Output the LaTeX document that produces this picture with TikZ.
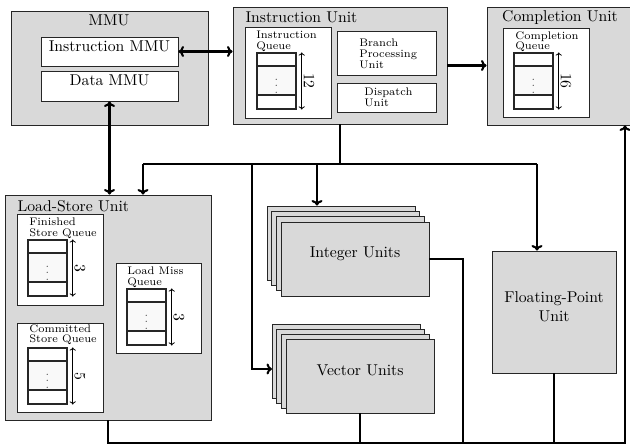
\documentclass[tikz,border=0pt]{standalone}
\usetikzlibrary{fit,arrows.meta}

\tikzset{
  unit/.style={draw=black!85, fill=gray!30, line width=0.6pt, inner sep=0pt},
  sub/.style={draw=black!85, fill=white, line width=0.6pt, inner sep=0pt},
  cell/.style={draw=black!85, fill=white, line width=0.7pt, inner sep=0pt},
  midcell/.style={cell, fill=gray!5},
  smalltext/.style={font=\fontsize{7}{6.8}\selectfont, align=left, inner sep=0pt, anchor=north west},
  wire/.style={line width=1.3pt},
  link/.style={wire, -{To[length=3.5pt,width=7pt]}},
  dlink/.style={wire, {To[length=3.5pt,width=7pt]}-{To[length=3.5pt,width=7pt]}},
  depth/.style={line width=0.5pt, {To[length=2pt,width=4pt]}-{To[length=2pt,width=4pt]}},
}

% a FIFO queue: name, left x, top y, number of entries
\newcommand\fifoq[4]{%
  \node[cell, fit={(#2,#3) (#2+39,#3+13)}] (#1t) {};
  \node[midcell, fit={(#2,#3+13) (#2+39,#3+42)}] (#1m) {};
  \node[cell, fit={(#2,#3+42) (#2+39,#3+56)}] (#1b) {};
  \node[inner sep=0pt, font=\scriptsize, text=black!70] (#1d) at (#2+19.5,#3+28.5) {$\vdots$};
  \draw[depth] ([xshift=3.3pt]#1t.north east) -- ([xshift=3.3pt]#1b.south east);
  \node[rotate=-90, inner sep=0pt] (#1n) at (#2+52,#3+28) {#4};
}

\begin{document}
\begin{tikzpicture}[x=0.637pt, y=-0.637pt]
\useasboundingbox (0,0) rectangle (630,447);

% ---- MMU ----
\node[unit, fit={(11,11) (208,125)}] (mmu) {};
\node (mmut) at (109,20) {MMU};
\node[sub, fit={(41,37) (178,66)}] (immu) {Instruction MMU};
\node[sub, fit={(41,71) (178,101)}] (dmmu) {Data MMU};

% ---- Instruction Unit ----
\node[unit, fit={(233,7) (447,124)}] (iu) {};
\node[anchor=west] (iut) at (240,17) {Instruction Unit};
\node[sub, fit={(245,27) (331,118)}] (iqb) {};
\node[smalltext] (iqt) at (256,31) {Instruction\\Queue};
\fifoq{iq}{257}{53}{12}
\node[sub, fit={(337,31) (436,75)}] (bpu) {};
\node[smalltext] (bput) at (359,39) {Branch\\Processing\\Unit};
\node[sub, fit={(337,83) (436,112)}] (dsp) {};
\node[smalltext] (dspt) at (364,88) {Dispatch\\Unit};

% ---- Completion Unit ----
\node[unit, fit={(487,7) (634,125)}] (cu) {};
\node (cut) at (560,17) {Completion Unit};
\node[sub, fit={(503,28) (589,117)}] (cqb) {};
\node[smalltext] (cqt) at (515,31) {Completion\\Queue};
\fifoq{cq}{514}{53}{16}

% ---- Load-Store Unit ----
\node[unit, fit={(5,195) (211,420)}] (lsu) {};
\node[anchor=west] (lsut) at (12,206) {Load-Store Unit};
\node[sub, fit={(17,214) (103,305)}] (fsqb) {};
\node[smalltext] (fsqt) at (29,218) {Finished\\Store Queue};
\fifoq{fsq}{28}{240}{3}
\node[sub, fit={(116,263) (201,353)}] (lmqb) {};
\node[smalltext] (lmqt) at (127,267) {Load Miss\\Queue};
\fifoq{lmq}{127}{289}{3}
\node[sub, fit={(17,323) (103,412)}] (csqb) {};
\node[smalltext] (csqt) at (29,324) {Committed\\Store Queue};
\fifoq{csq}{28}{348}{5}

% ---- Integer Units (stack of four) ----
\node[unit, fit={(267,206) (415,280)}] (int1) {};
\node[unit, fit={(271.7,211.3) (419.7,285.3)}] (int2) {};
\node[unit, fit={(276.3,216.7) (424.3,290.7)}] (int3) {};
\node[unit, fit={(281,222) (429,296)}] (int4) {Integer Units};

% ---- Vector Units (stack of four) ----
\node[unit, fit={(272,324) (420,398)}] (vec1) {};
\node[unit, fit={(276.7,329) (424.7,403)}] (vec2) {};
\node[unit, fit={(281.3,334) (429.3,408)}] (vec3) {};
\node[unit, fit={(286,339) (434,413)}] (vec4) {Vector Units};

% ---- Floating-Point Unit ----
\node[unit, fit={(492,251) (616,373)}, align=center] (fpu) {Floating-Point\\Unit};

% ---- bus junctions ----
\coordinate (bus)  at (340,164);
\coordinate (busL) at (143,164);
\coordinate (busR) at (537,164);
\coordinate (tapI) at (317,164);
\coordinate (tapV) at (252,164);
\coordinate (vecIn) at (272,369);
\coordinate (intOut) at (463,443);
\coordinate (bbR) at (625,443);

% ---- connectors ----
\draw[dlink] (immu.east) -- (immu.east -| iu.west);
\draw[dlink] (dmmu.south) -- (dmmu.south |- lsu.north);
\draw[link] (iu.east) -- (iu.east -| cu.west);

\draw[wire] (iu.south) -- (bus);
\draw[wire] (busL) -- (busR);
\draw[link] (busL) -- (busL |- lsu.north);
\draw[link] (busR) -- (busR |- fpu.north);
\draw[link] (tapI) -- (tapI |- int1.north);
\draw[link] (tapV) |- (vecIn);

\draw[wire] (int4.east) -| (intOut);
\draw[wire] (vec4.south) -- (vec4.south |- bbR);
\draw[wire] (fpu.south) -- (fpu.south |- bbR);
\draw[link] (lsu.south) |- (bbR) -- (bbR |- cu.south);

\end{tikzpicture}
\end{document}
